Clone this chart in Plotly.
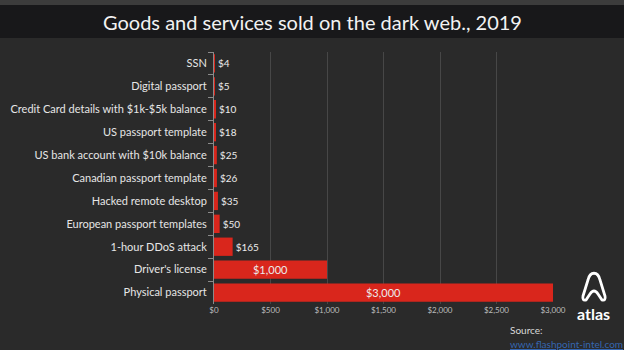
import plotly.graph_objects as go

categories = ["SSN", "Digital passport", "Credit Card details with $1k-$5k balance",
              "US passport template", "US bank account with $10k balance",
              "Canadian passport template", "Hacked remote desktop",
              "European passport templates", "1-hour DDoS attack",
              "Driver's license", "Physical passport"]
prices = [4, 5, 10, 18, 25, 26, 35, 50, 165, 1000, 3000]
tick_vals = [0, 500, 1000, 1500, 2000, 2500, 3000]
tick_text = ["$0", "$500", "$1,000", "$1,500", "$2,000", "$2,500", "$3,000"]

W, H = 624, 350
L, R, T, B = 214, 71, 52, 46
PW, PH = W - L - R, H - T - B

def px(x, y):
    return (x - L) / PW, (H - B - y) / PH

labels = ["$" + format(v, ",") for v in prices]
positions = ["inside" if v >= 500 else "outside" for v in prices]
sizes = [11 if v >= 500 else 10 for v in prices]

fig = go.Figure(go.Bar(
    y=categories, x=prices, orientation="h",
    marker=dict(color="#d9261c", line=dict(width=0)),
    text=labels, textposition=positions, insidetextanchor="middle",
    textfont=dict(color="#ececec", size=sizes, family="Lato"),
    cliponaxis=False, constraintext="none",
))

shapes = []
x0, y0 = px(0, 5); x1, y1 = px(W, 38)
shapes.append(dict(type="rect", xref="paper", yref="paper", x0=x0, x1=x1, y0=y1, y1=y0,
                   fillcolor="#18181a", line=dict(width=0), layer="below"))
x0, y0 = px(0, 0); x1, y1 = px(W, 5)
shapes.append(dict(type="rect", xref="paper", yref="paper", x0=x0, x1=x1, y0=y1, y1=y0,
                   fillcolor="#3c3c3c", line=dict(width=0), layer="below"))

# atlas logo outline
pts = [("M", 583, 296), ("L", 588, 280), ("C", 590, 271, 598, 271, 600, 280),
       ("L", 605, 296), ("Q", 606, 301, 602, 300), ("L", 598, 294),
       ("Q", 594, 288, 590, 294), ("L", 586, 300), ("Q", 582, 301, 583, 296)]
path = ""
for p in pts:
    cmd, coords = p[0], p[1:]
    s = []
    for i in range(0, len(coords), 2):
        a, b = px(coords[i], coords[i + 1])
        s.append(f"{a:.5f},{b:.5f}")
    path += cmd + " " + " ".join(s) + " "
path += "Z"
shapes.append(dict(type="path", xref="paper", yref="paper", path=path,
                   line=dict(color="white", width=2.8)))

annotations = []
tx, ty = px(312, 22)
annotations.append(dict(text="Goods and services sold on the dark web., 2019", x=tx, y=ty,
                        xref="paper", yref="paper", showarrow=False, xanchor="center",
                        yanchor="middle", font=dict(size=20, color="#f2f2f2", family="Lato")))
ax, ay = px(593, 313)
annotations.append(dict(text="<b>atlas</b>", x=ax, y=ay, xref="paper", yref="paper",
                        showarrow=False, xanchor="center", yanchor="middle",
                        font=dict(size=16, color="white", family="Lato")))
sx, sy = px(508, 330)
annotations.append(dict(text="Source:", x=sx, y=sy, xref="paper", yref="paper",
                        showarrow=False, xanchor="left", yanchor="middle",
                        font=dict(size=10, color="#d9d9d9", family="Lato")))
lx, ly = px(508, 344)
annotations.append(dict(text="<u>www.flashpoint-intel.com</u>", x=lx, y=ly, xref="paper", yref="paper",
                        showarrow=False, xanchor="left", yanchor="middle",
                        font=dict(size=10, color="#3566b0", family="Lato")))

fig.update_layout(
    width=W, height=H,
    margin=dict(l=L, r=R, t=T, b=B),
    paper_bgcolor="#2a2a2a", plot_bgcolor="#2a2a2a",
    bargap=0.2, showlegend=False,
    shapes=shapes, annotations=annotations,
    xaxis=dict(range=[0, 3000], tickvals=tick_vals, ticktext=tick_text,
               tickfont=dict(size=8, color="#bdbdbd", family="Lato"),
               showgrid=True, gridcolor="#474747", gridwidth=1, zeroline=False,
               showline=False, fixedrange=True),
    yaxis=dict(autorange="reversed", tickson="boundaries", ticks="outside", ticklen=5,
               tickcolor="#8a8a8a", showline=True, linecolor="#8a8a8a", linewidth=1,
               tickfont=dict(size=11, color="#e6e6e6", family="Lato"),
               showgrid=False, ticklabelstandoff=4),
)

fig.write_html("out.html")
